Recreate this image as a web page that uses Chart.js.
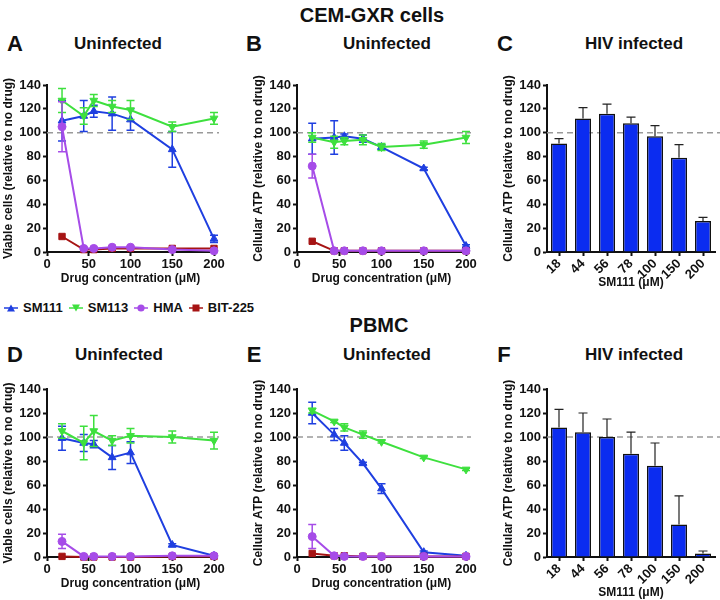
<!DOCTYPE html>
<html>
<head>
<meta charset="utf-8">
<script src="https://cdn.jsdelivr.net/npm/chart.js@4.4.1/dist/chart.umd.min.js"></script>
<style>
    body { margin: 0; background: #fff; font-family: "Liberation Sans", Arial, sans-serif; }
    #fig { position: relative; width: 720px; height: 600px; overflow: hidden; }
    #fig canvas { position: absolute; }
    .txt { position: absolute; font-weight: bold; color: #111; transform: translate(-50%, -50%); white-space: nowrap; }
    .head { font-size: 20px; }
    .letter { font-size: 22px; }
    .sub { font-size: 17px; }
    #legend { position: absolute; left: 4px; top: 300px; display: flex; gap: 6px; font-weight: bold; font-size: 13px; color: #111; line-height: 16px; }
    #legend span { display: flex; align-items: center; gap: 5px; }
</style>
</head>
<body>
<div id="fig">
    <div class="txt head" style="left:372px; top:15px">CEM-GXR cells</div>
    <div class="txt head" style="left:379px; top:325px">PBMC</div>

    <div class="txt letter" style="left:15px; top:44px">A</div>
    <div class="txt letter" style="left:254px; top:44px">B</div>
    <div class="txt letter" style="left:505px; top:44px">C</div>
    <div class="txt letter" style="left:15px; top:355px">D</div>
    <div class="txt letter" style="left:254px; top:355px">E</div>
    <div class="txt letter" style="left:504px; top:355px">F</div>

    <div class="txt sub" style="left:118px; top:44px">Uninfected</div>
    <div class="txt sub" style="left:387px; top:44px">Uninfected</div>
    <div class="txt sub" style="left:634px; top:44px">HIV infected</div>
    <div class="txt sub" style="left:119px; top:355px">Uninfected</div>
    <div class="txt sub" style="left:387px; top:355px">Uninfected</div>
    <div class="txt sub" style="left:634px; top:355px">HIV infected</div>

    <div id="legend"></div>

    <canvas id="chart-a" width="230" height="216" style="left:0; top:70px"></canvas>
    <canvas id="chart-b" width="230" height="216" style="left:250px; top:70px"></canvas>
    <canvas id="chart-c" width="220" height="220" style="left:500px; top:70px"></canvas>
    <canvas id="chart-d" width="230" height="217" style="left:0; top:374px"></canvas>
    <canvas id="chart-e" width="230" height="217" style="left:250px; top:374px"></canvas>
    <canvas id="chart-f" width="220" height="226" style="left:500px; top:374px"></canvas>
</div>

<script>
// drug concentrations (uM), shared by every panel
const concentrations = [18, 44, 56, 78, 100, 150, 200];
const concLabels = ['18', '44', '56', '78', '100', '150', '200'];

const seriesNames = ['SM111', 'SM113', 'HMA', 'BIT-225'];
const seriesColors = ['#1f3fe0', '#3ee03e', '#a64ce8', '#a61414'];

// A - CEM-GXR, viable cells
const aSM111 = [110, 114, 118, 116, 111, 86, 11];
const aSM111Err = [17, 13, 5, 14, 9, 15, 3];
const aSM113 = [127, 114, 127, 122, 119, 105, 112];
const aSM113Err = [10, 7, 5, 5, 8, 4, 5];
const aHMA = [105, 3, 3, 4, 4, 2, 1];
const aHMAErr = [21, 0, 0, 0, 0, 0, 0];
const aBIT = [13, 2, 2, 3, 3, 3, 3];

// B - CEM-GXR, cellular ATP
const bSM111 = [95, 96, 97, 95, 88, 70, 5];
const bSM111Err = [13, 14, 2, 3, 2, 1, 1];
const bSM113 = [96, 92, 93, 94, 88, 90, 96];
const bSM113Err = [4, 5, 3, 4, 3, 3, 5];
const bHMA = [72, 1, 1, 1, 1, 1, 1];
const bHMAErr = [10, 0, 0, 0, 0, 0, 0];
const bBIT = [9, 1, 1, 1, 1, 1, 1];

// C - CEM-GXR HIV infected, SM111
const cATP = [91, 112, 116, 108, 97, 79, 26];
const cATPErr = [4, 9, 8, 5, 9, 11, 3];

// D - PBMC, viable cells
const dSM111 = [99, 95, 94, 83, 87, 10, 1];
const dSM111Err = [10, 7, 3, 10, 9, 1, 1];
const dSM113 = [105, 95, 105, 97, 101, 100, 97];
const dSM113Err = [6, 14, 13, 4, 6, 5, 7];
const dHMA = [13, 0.5, 0.5, 0.5, 0.5, 1, 1];
const dHMAErr = [6, 0, 0, 0, 0, 0, 0];
const dBIT = [0.5, 0, 0, 0, 0, 0.5, 0.5];

// E - PBMC, cellular ATP
const eSM111 = [120, 102, 95, 78, 57, 4, 1];
const eSM111Err = [9, 5, 6, 1, 4, 1, 0];
const eSM113 = [122, 113, 108, 102, 96, 83, 73];
const eSM113Err = [2, 1, 3, 3, 1, 1, 1];
const eHMA = [17, 1, 0.5, 0.5, 0.5, 0.5, 0.5];
const eHMAErr = [10, 0, 0, 0, 0, 0, 0];
const eBIT = [3, 1, 1, 0.5, 0.5, 0.5, 0.5];

// F - PBMC HIV infected, SM111
const fATP = [108, 104, 100, 86, 76, 27, 3];
const fATPErr = [15, 16, 15, 18, 19, 24, 2];

const VIABLE = 'Viable cells (relative to no drug)';
const ATP = 'Cellular ATP (relative to no drug)';
const FAMILY = '"Liberation Sans", Arial, sans-serif';
const INK = '#111';

const font = (size) => ({ family: FAMILY, size: size, weight: 'bold' });

// dashed "no drug" line at 100
const refLine = {
    id: 'refLine',
    beforeDatasetsDraw(chart, args, opts) {
        const { ctx, chartArea } = chart;
        const y = chart.scales.y.getPixelForValue(opts.value);
        ctx.save();
        ctx.strokeStyle = '#9a9a9a';
        ctx.lineWidth = 1.5;
        ctx.setLineDash([6, 4]);
        ctx.beginPath();
        ctx.moveTo(chartArea.left, y);
        ctx.lineTo(opts.toEdge ? chart.width : chartArea.right + 5, y);
        ctx.stroke();
        ctx.restore();
    }
};

// SD error bars, drawn right after their own dataset
const errorBars = {
    id: 'errorBars',
    afterDatasetDraw(chart, args) {
        const ds = chart.data.datasets[args.index];
        if (!ds.errors) return;
        const yScale = chart.scales.y;
        const ctx = chart.ctx;
        ctx.save();
        ctx.strokeStyle = ds.errorColor || ds.borderColor;
        ctx.lineWidth = ds.errorWidth || 1.5;
        args.meta.data.forEach((el, i) => {
            const err = ds.errors[i];
            if (!err) return;
            const raw = ds.data[i];
            const v = typeof raw === 'object' ? raw.y : raw;
            const top = yScale.getPixelForValue(v + err);
            const bottom = ds.upOnly ? el.y : yScale.getPixelForValue(v - err);
            const cap = ds.capHalf || 4;
            ctx.beginPath();
            ctx.moveTo(el.x, top);
            ctx.lineTo(el.x, bottom);
            ctx.moveTo(el.x - cap, top);
            ctx.lineTo(el.x + cap, top);
            if (!ds.upOnly) {
                ctx.moveTo(el.x - cap, bottom);
                ctx.lineTo(el.x + cap, bottom);
            }
            ctx.stroke();
        });
        ctx.restore();
    }
};

class CytotoxFigure {
    constructor() {
        this.charts = {};
        this.buildLegend();
        this.buildPanels();
    }

    axisLines() {
        return {
            grid: { drawOnChartArea: false, tickLength: 4, tickWidth: 2, color: INK },
            border: { color: INK, width: 2 }
        };
    }

    yAxis(title) {
        return {
            min: 0,
            max: 140,
            ticks: { stepSize: 20, font: font(13), color: INK, padding: 2 },
            ...this.axisLines(),
            title: { display: true, text: title, font: font(12), color: INK, padding: { top: 1, bottom: 0 } },
            afterFit: (scale) => { scale.width = 47; }
        };
    }

    lineSet(idx, values, errors) {
        const styles = ['triangle', 'triangle', 'circle', 'rect'];
        const order = [3, 2, 0, 1];
        return {
            label: seriesNames[idx],
            data: concentrations.map((x, i) => ({ x: x, y: values[i] })),
            errors: errors,
            borderColor: seriesColors[idx],
            backgroundColor: seriesColors[idx],
            borderWidth: 2,
            pointStyle: styles[idx],
            pointRotation: idx === 1 ? 180 : 0,
            pointRadius: idx === 2 ? 4 : 4.5,
            pointBorderWidth: 1,
            clip: false,
            order: order[idx]
        };
    }

    linePanel(id, title, sets, axisHeight, rightPad) {
        this.charts[id] = new Chart(id, {
            type: 'line',
            data: { datasets: sets },
            options: {
                responsive: false,
                animation: false,
                layout: { padding: { top: 15, right: rightPad, bottom: 0, left: 0 } },
                plugins: { legend: { display: false }, tooltip: { enabled: false }, refLine: { value: 100 } },
                scales: {
                    x: {
                        type: 'linear',
                        min: 0,
                        max: 200,
                        ticks: { stepSize: 50, font: font(13), color: INK, padding: 1, maxRotation: 0 },
                        ...this.axisLines(),
                        title: { display: true, text: 'Drug concentration (μM)', font: font(12), color: INK, padding: 0 },
                        afterFit: (scale) => { scale.height = axisHeight; }
                    },
                    y: this.yAxis(title)
                }
            },
            plugins: [refLine, errorBars]
        });
    }

    barPanel(id, values, errors, axisHeight) {
        this.charts[id] = new Chart(id, {
            type: 'bar',
            data: {
                labels: concLabels,
                datasets: [{
                    data: values,
                    errors: errors,
                    upOnly: true,
                    errorColor: '#222',
                    errorWidth: 1.2,
                    capHalf: 4.5,
                    backgroundColor: '#0b2cf0',
                    borderColor: INK,
                    borderWidth: 1.5,
                    barPercentage: 0.67,
                    categoryPercentage: 1
                }]
            },
            options: {
                responsive: false,
                animation: false,
                layout: { padding: { top: 15, right: 5, bottom: 0, left: 0 } },
                plugins: { legend: { display: false }, tooltip: { enabled: false }, refLine: { value: 100, toEdge: true } },
                scales: {
                    x: {
                        type: 'category',
                        offset: true,
                        ticks: { font: font(13), color: INK, minRotation: 45, maxRotation: 45, autoSkip: false, padding: 0 },
                        grid: { offset: false, drawOnChartArea: false, tickLength: 4, tickWidth: 2, color: INK },
                        border: { color: INK, width: 2 },
                        title: { display: true, text: 'SM111 (μM)', font: font(12), color: INK, padding: 0 },
                        afterFit: (scale) => { scale.height = axisHeight; }
                    },
                    y: this.yAxis(ATP)
                }
            },
            plugins: [refLine, errorBars]
        });
    }

    buildPanels() {
        this.linePanel('chart-a', VIABLE, [
            this.lineSet(0, aSM111, aSM111Err),
            this.lineSet(1, aSM113, aSM113Err),
            this.lineSet(2, aHMA, aHMAErr),
            this.lineSet(3, aBIT, null)
        ], 34, 16);

        this.linePanel('chart-b', ATP, [
            this.lineSet(0, bSM111, bSM111Err),
            this.lineSet(1, bSM113, bSM113Err),
            this.lineSet(2, bHMA, bHMAErr),
            this.lineSet(3, bBIT, null)
        ], 34, 14);

        this.barPanel('chart-c', cATP, cATPErr, 38);

        this.linePanel('chart-d', VIABLE, [
            this.lineSet(0, dSM111, dSM111Err),
            this.lineSet(1, dSM113, dSM113Err),
            this.lineSet(2, dHMA, dHMAErr),
            this.lineSet(3, dBIT, null)
        ], 34, 16);

        this.linePanel('chart-e', ATP, [
            this.lineSet(0, eSM111, eSM111Err),
            this.lineSet(1, eSM113, eSM113Err),
            this.lineSet(2, eHMA, eHMAErr),
            this.lineSet(3, eBIT, null)
        ], 34, 14);

        this.barPanel('chart-f', fATP, fATPErr, 43);
    }

    buildLegend() {
        const shapes = [
            '<polygon points="7,1.5 11,8.5 3,8.5"/>',
            '<polygon points="3,1.5 11,1.5 7,8.5"/>',
            '<circle cx="7" cy="5" r="3.6"/>',
            '<rect x="3.5" y="1.5" width="7" height="7"/>'
        ];
        const legend = document.getElementById('legend');
        seriesNames.forEach((name, i) => {
            const item = document.createElement('span');
            item.innerHTML =
                '<svg width="14" height="10" fill="' + seriesColors[i] + '">' +
                '<line x1="0" y1="5" x2="14" y2="5" stroke="' + seriesColors[i] + '" stroke-width="1.5"/>' +
                shapes[i] + '</svg>' + name;
            legend.appendChild(item);
        });
    }
}

document.addEventListener('DOMContentLoaded', () => {
    new CytotoxFigure();
});
</script>
</body>
</html>
